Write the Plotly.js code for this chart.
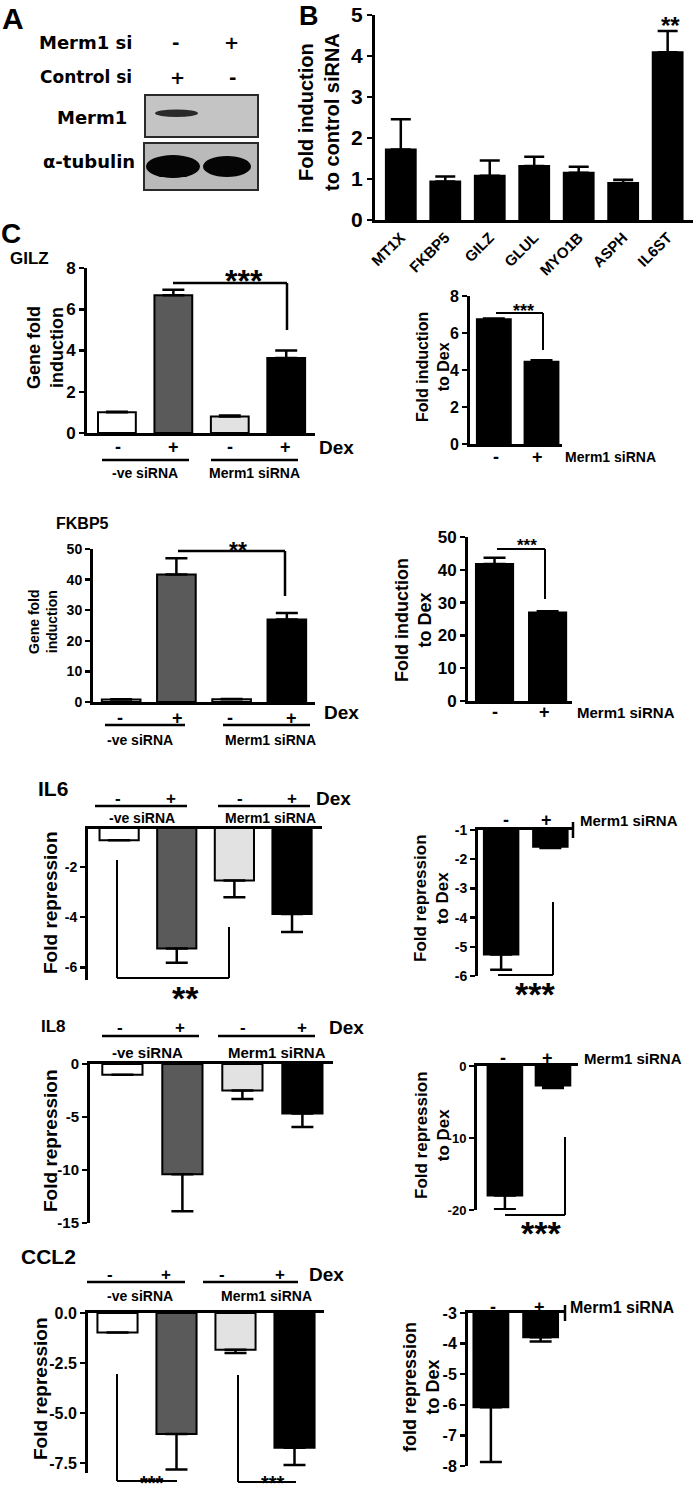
<!DOCTYPE html>
<html><head><meta charset="utf-8">
<script src="https://cdn.plot.ly/plotly-3.0.1.min.js"></script>
<style>html,body{margin:0;padding:0;background:#fff}</style>
</head><body><div id="fig" style="width:693px;height:1496px"></div>
<script>
// ================= DATA =================
// Panel A (western blot lanes)
const mermSiSigns = ['-', '+'];
const controlSiSigns = ['+', '-'];
// Panel B
const bGenes = ['MT1X', 'FKBP5', 'GILZ', 'GLUL', 'MYO1B', 'ASPH', 'IL6ST'];
const bFold = [1.72, 0.94, 1.08, 1.32, 1.15, 0.90, 4.09];
const bSem = [0.74, 0.12, 0.37, 0.22, 0.15, 0.08, 0.52];
const bTicks = [0, 1, 2, 3, 4, 5];
// Panel C shared labels
const dexLabels = ['-', '+', '-', '+'];
const siGroups = ['-ve siRNA', 'Merm1 siRNA'];
const mermLabels = ['-', '+'];
// GILZ
const gilzFold = [1.00, 6.68, 0.80, 3.64];
const gilzSem = [0.03, 0.26, 0.05, 0.36];
const gilzTicks = [0, 2, 4, 6, 8];
const gilzDex = [6.74, 4.45];
const gilzDexSem = [0.05, 0.08];
const gilzDexTicks = [0, 2, 4, 6, 8];
// FKBP5
const fkbp5Fold = [0.8, 41.7, 0.9, 27.0];
const fkbp5Sem = [0.1, 5.3, 0.1, 2.1];
const fkbp5Ticks = [0, 10, 20, 30, 40, 50];
const fkbp5Dex = [41.8, 27.0];
const fkbp5DexSem = [1.9, 0.4];
const fkbp5DexTicks = [0, 10, 20, 30, 40, 50];
// IL6
const il6Fold = [-0.95, -5.25, -2.55, -3.88];
const il6Sem = [0.0, 0.56, 0.66, 0.71];
const il6Ticks = [-2, -4, -6];
const il6Dex = [-5.26, -1.57];
const il6DexSem = [0.53, 0.05];
const il6DexTicks = [-1, -2, -3, -4, -5, -6];
// IL8
const il8Fold = [-1.02, -10.4, -2.5, -4.67];
const il8Sem = [0.0, 3.5, 0.8, 1.27];
const il8Ticks = [0, -5, -10, -15];
const il8Dex = [-18.0, -2.7];
const il8DexSem = [1.9, 0.35];
const il8DexTicks = [0, -10, -20];
// CCL2
const ccl2Fold = [-0.97, -6.05, -1.84, -6.74];
const ccl2Sem = [0.0, 1.77, 0.16, 0.86];
const ccl2Ticks = [0, -2.5, -5, -7.5];
const ccl2TickText = ['0.0', '-2.5', '-5.0', '-7.5'];
const ccl2Dex = [-6.08, -3.79];
const ccl2DexSem = [1.79, 0.14];
const ccl2DexTicks = [-3, -4, -5, -6, -7, -8];

// ================= LAYOUT HELPERS =================
const W = 693, H = 1496;
const px = x => x / W, py = y => 1 - y / H;
const FONT = 'Liberation Sans, Arial, sans-serif';
const FONT_A = 'DejaVu Sans, Verdana, sans-serif';
const fnt = (size, fam) => ({family: fam || FONT, size: size, color: '#000', weight: 'bold'});
const FILL4 = ['#ffffff', '#5a5a5a', '#e2e2e2', '#000000'];

// box: [xLeft, xRight, yTop(px), yBottom(px)]
const panels = [
  {x: bGenes, y: bFold, e: bSem, box: [375, 693, 15, 220], xr: [-0.58, 6.57], yr: [0, 5], ticks: bTicks, tf: 21, bw: 0.67, black: true, top: false},
  {y: gilzFold, e: gilzSem, box: [87, 315, 268, 433], xr: [-0.53, 3.51], yr: [0, 8], ticks: gilzTicks, tf: 17, bw: 0.67, top: false},
  {y: gilzDex, e: gilzDexSem, box: [470, 562, 296, 444], xr: [-0.5, 1.43], yr: [0, 8], ticks: gilzDexTicks, tf: 16, bw: 0.71, black: true, top: false},
  {y: fkbp5Fold, e: fkbp5Sem, box: [93, 315, 549, 702], xr: [-0.51, 3.51], yr: [0, 50], ticks: fkbp5Ticks, tf: 14, bw: 0.7, top: false},
  {y: fkbp5Dex, e: fkbp5DexSem, box: [468, 572, 537, 701], xr: [-0.5, 1.46], yr: [0, 50], ticks: fkbp5DexTicks, tf: 17, bw: 0.7, black: true, top: false},
  {y: il6Fold, e: il6Sem, box: [88, 322, 829, 980], xr: [-0.54, 3.52], yr: [-6.5, -0.5], ticks: il6Ticks, tf: 14, bw: 0.68, top: true},
  {y: il6Dex, e: il6DexSem, box: [478, 573, 830, 976], xr: [-0.47, 1.46], yr: [-6, -1], ticks: il6DexTicks, tf: 14, bw: 0.7, black: true, top: true},
  {y: il8Fold, e: il8Sem, box: [90, 333, 1064, 1223], xr: [-0.54, 3.51], yr: [-15, 0], ticks: il8Ticks, tf: 15, bw: 0.67, top: true},
  {y: il8Dex, e: il8DexSem, box: [477, 578, 1066, 1210], xr: [-0.58, 1.52], yr: [-20, 0], ticks: il8DexTicks, tf: 13, bw: 0.72, black: true, top: true},
  {y: ccl2Fold, e: ccl2Sem, box: [88, 324, 1313, 1473], xr: [-0.5, 3.5], yr: [-8, 0], ticks: ccl2Ticks, ttext: ccl2TickText, tf: 16, bw: 0.68, top: true},
  {y: ccl2Dex, e: ccl2DexSem, box: [468, 565, 1313, 1466], xr: [-0.46, 1.49], yr: [-8, -3], ticks: ccl2DexTicks, tf: 16, bw: 0.7, black: true, top: true}
];

const traces = [];
const layout = {
  width: W, height: H, margin: {l: 0, r: 0, t: 0, b: 0},
  paper_bgcolor: '#fff', plot_bgcolor: 'rgba(0,0,0,0)',
  showlegend: false, bargap: 0, annotations: [], shapes: [],
  font: {family: FONT}
};

panels.forEach((p, k) => {
  const n = k + 1, sfx = n === 1 ? '' : String(n);
  const neg = p.y[0] < 0;
  const zeros = p.y.map(() => 0);
  traces.push({
    type: 'bar', x: p.x || p.y.map((_, i) => i), y: p.y,
    xaxis: 'x' + sfx, yaxis: 'y' + sfx, width: p.bw,
    marker: {color: p.black ? '#000' : FILL4, line: {color: '#000', width: 2}},
    error_y: {type: 'data', symmetric: false, array: neg ? zeros : p.e, arrayminus: neg ? p.e : zeros,
      color: '#000', thickness: 2.5, width: n === 1 ? 10 : 11},
    hoverinfo: 'skip', cliponaxis: true
  });
  layout['xaxis' + sfx] = {
    domain: [px(p.box[0]), px(p.box[1])], range: p.xr, anchor: 'y' + sfx,
    side: p.top ? 'top' : 'bottom', showline: true, linewidth: 3, linecolor: '#000',
    showgrid: false, zeroline: false, fixedrange: true,
    ticks: '', showticklabels: n === 1,
    tickangle: -45, tickfont: fnt(15)
  };
  layout['yaxis' + sfx] = {
    domain: [py(p.box[3]), py(p.box[2])], range: p.yr, anchor: 'x' + sfx,
    showline: true, linewidth: 3, linecolor: '#000', showgrid: false, zeroline: false,
    fixedrange: true, ticks: 'outside', ticklen: 5, tickwidth: 2.5, tickcolor: '#000',
    tickvals: p.ticks, ticktext: p.ttext || p.ticks.map(v => String(v)),
    tickfont: fnt(p.tf)
  };
});

// ---------- annotation / shape helpers ----------
function T(text, x, y, size, extra, fam) {
  return Object.assign({text: text, x: px(x), y: py(y), xref: 'paper', yref: 'paper', showarrow: false,
    xanchor: 'center', yanchor: 'middle', font: fnt(size, fam)}, extra || {});
}
function L(x0, y0, x1, y1, w) {
  return {type: 'line', xref: 'paper', yref: 'paper', x0: px(x0), y0: py(y0), x1: px(x1), y1: py(y1),
    line: {color: '#000', width: w || 2}};
}
function stars(text, x, y, size) { return T(text, x, y + 0.23 * size, size); }
const A = layout.annotations, S = layout.shapes;

// ---------- Panel letters & titles ----------
A.push(T('A', 13, 18, 30), T('B', 309, 16, 27), T('C', 11, 234, 28));
A.push(T('GILZ', 8, 258, 17, {xanchor: 'left'}));
A.push(T('FKBP5', 54, 523, 16, {xanchor: 'left'}));
A.push(T('IL6', 36, 788, 21, {xanchor: 'left'}));
A.push(T('IL8', 39, 1026, 17, {xanchor: 'left'}));
A.push(T('CCL2', 19, 1256, 21, {xanchor: 'left'}));

// ---------- Panel A: western blot ----------
A.push(T('Merm1 si', 134, 42, 18, {xanchor: 'right'}, FONT_A));
A.push(T('Control si', 134, 77, 17, {xanchor: 'right'}, FONT_A));
[175, 231].forEach((x, i) => A.push(T(mermSiSigns[i], x, 42, 18, null, FONT_A)));
[177, 233].forEach((x, i) => A.push(T(controlSiSigns[i], x, 78, 18, null, FONT_A)));
A.push(T('Merm1', 129, 117, 18, {xanchor: 'right'}, FONT_A));
A.push(T('α-tubulin', 137, 162, 18, {xanchor: 'right'}, FONT_A));
S.push({type: 'rect', xref: 'paper', yref: 'paper', x0: px(145), x1: px(258), y0: py(95), y1: py(137),
  fillcolor: '#c4c4c4', line: {color: '#2a2a2a', width: 2}});
S.push({type: 'rect', xref: 'paper', yref: 'paper', x0: px(144), x1: px(258), y0: py(143), y1: py(190),
  fillcolor: '#bababa', line: {color: '#2a2a2a', width: 2}});
S.push({type: 'circle', xref: 'paper', yref: 'paper', x0: px(155), x1: px(198), y0: py(109.5), y1: py(117),
  fillcolor: '#2a2a2a', line: {width: 0}});
S.push({type: 'circle', xref: 'paper', yref: 'paper', x0: px(146), x1: px(200), y0: py(155), y1: py(178),
  fillcolor: '#050505', line: {width: 0}});
S.push({type: 'circle', xref: 'paper', yref: 'paper', x0: px(203), x1: px(251), y0: py(156), y1: py(177),
  fillcolor: '#050505', line: {width: 0}});

// ---------- Panel B extras ----------
A.push(T('Fold induction<br>to control siRNA', 319, 112, 20, {textangle: -90}));
A.push(stars('**', 670, 20, 24));

// ---------- Left panels: Dex / siRNA labels ----------
const leftCfg = [
  {xs: [118, 173, 230, 285], y: 447, dex: [336, 447], lines: [[102, 189], [211, 298]], ly: 460, gy: 473, gx: [145, 255], s: 18, gs: 14},
  {xs: [120, 177, 230, 291], y: 718, dex: [341, 712], lines: [[105, 185], [223, 310]], ly: 725, gy: 740, gx: [140, 270], s: 18, gs: 14},
  {xs: [118, 171, 240, 292], y: 798, dex: [333, 798], lines: [[95, 187], [218, 310]], ly: 806, gy: 818, gx: [142, 270], s: 17, gs: 14},
  {xs: [120, 180, 243, 302], y: 1027, dex: [346, 1027], lines: [[102, 199], [218, 315]], ly: 1036, gy: 1052, gx: [147, 277], s: 17, gs: 15},
  {xs: [110, 166, 222, 280], y: 1274, dex: [326, 1274], lines: [[87, 185], [203, 298]], ly: 1282, gy: 1296, gx: [140, 266], s: 17, gs: 14}
];
leftCfg.forEach(c => {
  c.xs.forEach((x, i) => A.push(T(dexLabels[i], x, c.y, c.s)));
  A.push(T('Dex', c.dex[0], c.dex[1], 19));
  c.lines.forEach(l => S.push(L(l[0], c.ly, l[1], c.ly, 2.5)));
  c.gx.forEach((x, i) => A.push(T(siGroups[i], x, c.gy, c.gs)));
});

// ---------- Right panels: Merm1 siRNA labels ----------
const rightCfg = [
  {xs: [496, 537], y: 457, lx: 563, s: 14},
  {xs: [495, 544], y: 712, lx: 575, s: 15},
  {xs: [506, 546], y: 820, lx: 578, s: 15},
  {xs: [503, 547], y: 1058, lx: 582, s: 15},
  {xs: [493, 539], y: 1307, lx: 568, s: 16}
];
rightCfg.forEach(c => {
  c.xs.forEach((x, i) => A.push(T(mermLabels[i], x, c.y, 18)));
  A.push(T('Merm1 siRNA', c.lx, c.y, c.s, {xanchor: 'left'}));
});
// end ticks on top axes of IL6 / CCL2 right panels
S.push(L(573, 822, 573, 838, 2.5));
S.push(L(565, 1305, 565, 1321, 2.5));

// ---------- Y axis titles ----------
A.push(T('Gene fold<br>induction', 45, 347, 18, {textangle: -90}));
A.push(T('Fold induction<br>to Dex', 433, 367, 16, {textangle: -90}));
A.push(T('Gene fold<br>induction', 43, 622, 14, {textangle: -90}));
A.push(T('Fold induction<br>to Dex', 413, 620, 18, {textangle: -90}));
A.push(T('Fold repression', 50, 902, 19, {textangle: -90}));
A.push(T('Fold repression<br>to Dex', 432, 898, 17, {textangle: -90}));
A.push(T('Fold repression', 50, 1140, 19, {textangle: -90}));
A.push(T('Fold repression<br>to Dex', 432, 1135, 17, {textangle: -90}));
A.push(T('Fold repression', 40, 1389, 19, {textangle: -90}));
A.push(T('fold repression<br>to Dex', 421, 1387, 18, {textangle: -90}));

// ---------- Significance brackets ----------
S.push(L(173, 283, 287, 283, 2.5), L(287, 283, 287, 330, 2.5));
A.push(stars('***', 244, 274, 32));
S.push(L(496, 313, 543, 313, 2), L(543, 313, 543, 350, 2));
A.push(stars('***', 523, 307, 18));
S.push(L(178, 551, 285, 551, 2.5), L(285, 551, 285, 596, 2.5));
A.push(stars('**', 238, 546, 23));
S.push(L(497, 549, 545, 549, 2), L(545, 549, 545, 599, 2));
A.push(stars('***', 527, 542, 17));
S.push(L(117, 860, 117, 978, 2), L(117, 978, 229, 978, 2), L(229, 978, 229, 927, 2));
A.push(stars('**', 185, 990, 34));
S.push(L(553, 902, 553, 975, 2), L(553, 975, 498, 975, 2));
A.push(stars('***', 535, 986, 34));
S.push(L(565, 1137, 565, 1215, 2), L(565, 1215, 505, 1215, 2));
A.push(stars('***', 541, 1225, 34));
S.push(L(117, 1374, 117, 1481, 2), L(117, 1481, 177, 1481, 2));
A.push(T('***', 152, 1495.5, 20, {yanchor: 'bottom'}));
S.push(L(238, 1375, 238, 1482, 2), L(238, 1482, 296, 1482, 2));
A.push(T('***', 273, 1495.5, 20, {yanchor: 'bottom'}));

Plotly.newPlot('fig', traces, layout, {staticPlot: true, displayModeBar: false});
</script>
</body></html>
